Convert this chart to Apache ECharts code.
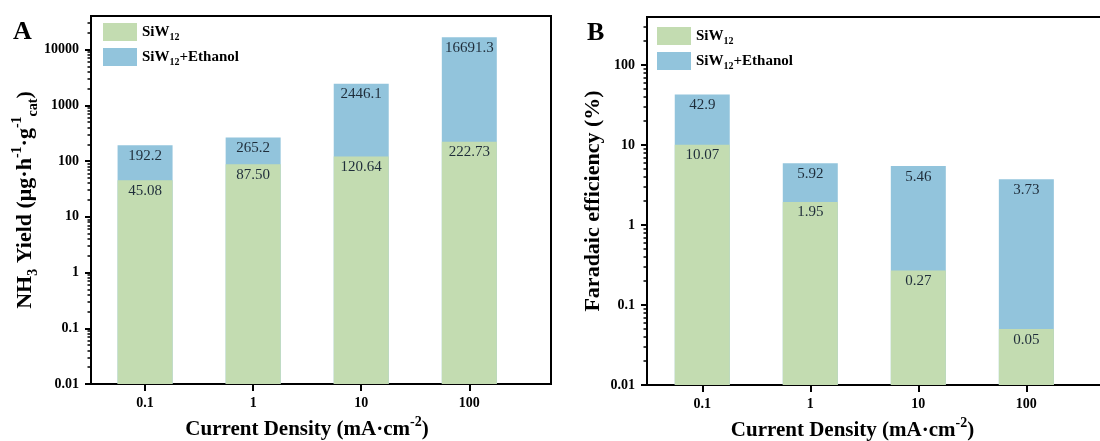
<!DOCTYPE html>
<html>
<head>
<meta charset="utf-8">
<script src="https://cdn.jsdelivr.net/npm/echarts@6/dist/echarts.min.js"></script>
<style>
  html, body { margin: 0; padding: 0; background: #fff; }
  #main { width: 1100px; height: 441px; }
</style>
</head>
<body>
<div id="main"></div>
<script>
// current density (mA·cm-2), used as log x values
const densities = [0.1, 1, 10, 100]
const yTicksA = [0.01, 0.1, 1, 10, 100, 1000, 10000]
const yTicksB = [0.01, 0.1, 1, 10, 100]

// A: NH3 yield
const yieldSiW = [45.08, 87.50, 120.64, 222.73]
const yieldEthanol = [192.2, 265.2, 2446.1, 16691.3]
const yieldSiWText = ['45.08', '87.50', '120.64', '222.73']
const yieldEthanolText = ['192.2', '265.2', '2446.1', '16691.3']

// B: Faradaic efficiency
const feSiW = [10.07, 1.95, 0.27, 0.05]
const feEthanol = [42.9, 5.92, 5.46, 3.73]
const feSiWText = ['10.07', '1.95', '0.27', '0.05']
const feEthanolText = ['42.9', '5.92', '5.46', '3.73']

const GREEN = '#c3dcb1'
const BLUE = '#92c4dc'
const SERIF = '"Liberation Serif", "Times New Roman", serif'

const chart = echarts.init(document.getElementById('main'))

const titleRich = {
    b: { fontFamily: SERIF, fontWeight: 'bold', fontSize: 22, lineHeight: 30, verticalAlign: 'middle', color: '#000' },
    sub: { fontFamily: SERIF, fontWeight: 'bold', fontSize: 14, lineHeight: 14, verticalAlign: 'bottom', color: '#000' },
    sup: { fontFamily: SERIF, fontWeight: 'bold', fontSize: 14, lineHeight: 14, verticalAlign: 'top', color: '#000' }
}
const xTitleRich = {
    b: { ...titleRich.b, fontSize: 21 },
    sup: titleRich.sup
}

// 2..9 x each decade, for the minor ticks of a log axis
function minorValues(ticks, max) {
    const out = []
    ticks.forEach(t => {
        for (let m = 2; m <= 9; m++) {
            const v = +(t * m).toPrecision(6)
            if (v < max) out.push(v)
        }
    })
    return out
}

function xAxis(gridIndex, min, padRight) {
    return {
        type: 'log',
        gridIndex,
        min,
        max: 570,
        name: '{b|Current Density (mA·cm}{sup|-2}{b|)}',
        nameLocation: 'middle',
        nameGap: 31,
        nameTextStyle: { rich: xTitleRich, padding: [0, padRight, 0, 0] },
        axisLine: { show: true, onZero: false, lineStyle: { color: '#000', width: 2 } },
        axisTick: { show: true, length: 7, lineStyle: { color: '#000', width: 2 }, customValues: densities },
        axisLabel: {
            customValues: densities,
            margin: 12,
            color: '#000',
            fontFamily: SERIF,
            fontWeight: 'bold',
            fontSize: 14,
            formatter: v => String(v)
        },
        minorTick: { show: false },
        splitLine: { show: false }
    }
}

function yAxis(gridIndex, max, ticks, name, nameGap) {
    return {
        type: 'log',
        gridIndex,
        min: 0.01,
        max,
        startValue: 0.01,
        name,
        nameLocation: 'middle',
        nameRotate: 90,
        nameGap,
        nameTextStyle: { rich: titleRich },
        axisLine: { show: true, onZero: false, lineStyle: { color: '#000', width: 2 } },
        axisTick: { show: true, length: 6, lineStyle: { color: '#000', width: 2 }, customValues: ticks },
        minorTick: { show: false },
        axisLabel: {
            customValues: ticks,
            margin: 12,
            color: '#000',
            fontFamily: SERIF,
            fontWeight: 'bold',
            fontSize: 14,
            formatter: v => String(v)
        },
        splitLine: { show: false }
    }
}

// overlaid axis that only draws the minor ticks
function minorAxis(gridIndex, max, ticks) {
    return {
        type: 'log',
        gridIndex,
        min: 0.01,
        max,
        position: 'left',
        axisLine: { show: false },
        axisLabel: { show: false },
        axisTick: { show: true, length: 3.5, lineStyle: { color: '#000', width: 1.5 }, customValues: minorValues(ticks, max) },
        minorTick: { show: false },
        splitLine: { show: false }
    }
}

function barLabel(texts) {
    return {
        show: true,
        position: 'insideTop',
        distance: 3,
        fontFamily: SERIF,
        fontSize: 15,
        color: '#1f2d3a',
        formatter: p => texts[p.dataIndex]
    }
}

function bars(name, color, xi, values, texts) {
    return {
        name,
        type: 'bar',
        xAxisIndex: xi,
        yAxisIndex: xi,
        barWidth: 55,
        barGap: '-100%',
        itemStyle: { color },
        label: barLabel(texts),
        emphasis: { disabled: true },
        data: densities.map((d, i) => [d, values[i]])
    }
}

function legend(left, top) {
    return {
        orient: 'vertical',
        left,
        top,
        padding: 0,
        itemWidth: 34,
        itemHeight: 18,
        itemGap: 6,
        icon: 'rect',
        data: ['SiW12', 'SiW12+Ethanol'],
        formatter: name => name === 'SiW12' ? '{b|SiW}{sub|12}' : '{b|SiW}{sub|12}{b|+Ethanol}',
        textStyle: {
            rich: {
                b: { fontFamily: SERIF, fontWeight: 'bold', fontSize: 15, lineHeight: 20, verticalAlign: 'middle', color: '#000' },
                sub: { fontFamily: SERIF, fontWeight: 'bold', fontSize: 10, lineHeight: 10, verticalAlign: 'bottom', color: '#000' }
            }
        }
    }
}

const option = {
    animation: false,
    backgroundColor: '#fff',
    graphic: [
        { type: 'text', left: 13, top: 19, style: { text: 'A', font: 'bold 26px ' + SERIF, fill: '#000' } },
        { type: 'text', left: 587, top: 20, style: { text: 'B', font: 'bold 26px ' + SERIF, fill: '#000' } }
    ],
    legend: [legend(103, 23), legend(657, 27)],
    grid: [
        { left: 91, top: 16, width: 460, height: 368, show: true, borderColor: '#000', borderWidth: 2, containLabel: false, outerBoundsMode: 'none' },
        { left: 647, top: 17, width: 461, height: 368, show: true, borderColor: '#000', borderWidth: 2, containLabel: false, outerBoundsMode: 'none' }
    ],
    xAxis: [xAxis(0, 0.0316, 28), xAxis(1, 0.0308, 50)],
    yAxis: [
        yAxis(0, 40000, yTicksA, '{b|NH}{sub|3}{b| Yield (μg·h}{sup|-1}{b|·g}{sup|-1}{sub|cat}{b|)}', 51),
        yAxis(1, 400, yTicksB, '{b|Faradaic efficiency (%)}', 39),
        minorAxis(0, 40000, yTicksA),
        minorAxis(1, 400, yTicksB)
    ],
    series: [
        bars('SiW12+Ethanol', BLUE, 0, yieldEthanol, yieldEthanolText),
        bars('SiW12', GREEN, 0, yieldSiW, yieldSiWText),
        bars('SiW12+Ethanol', BLUE, 1, feEthanol, feEthanolText),
        bars('SiW12', GREEN, 1, feSiW, feSiWText)
    ]
}

chart.setOption(option)
</script>
</body>
</html>
